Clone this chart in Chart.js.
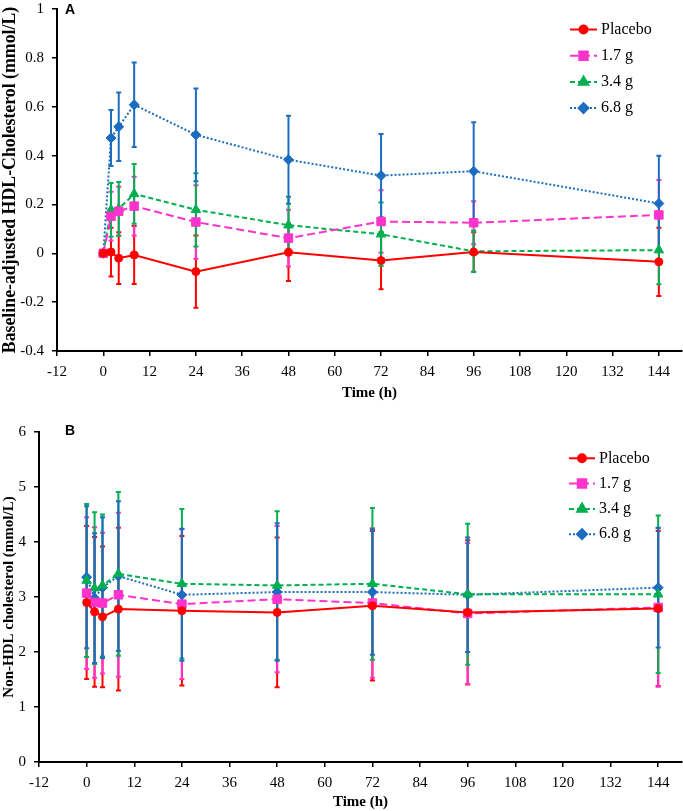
<!DOCTYPE html>
<html>
<head>
<meta charset="utf-8">
<script src="https://cdn.jsdelivr.net/npm/chart.js@4.4.1/dist/chart.umd.min.js"></script>
<style>
  body { margin: 0; background: #fff; overflow: hidden; }
  canvas { position: absolute; left: 0; }
</style>
</head>
<body>
<canvas id="chartA" width="683" height="404" style="top:0"></canvas>
<canvas id="chartB" width="683" height="407" style="top:404px"></canvas>
<script>
// sampling times (h)
var timesH = [0, 2, 4, 8, 24, 48, 72, 96, 144];
var seriesNames = ['Placebo', '1.7 g', '3.4 g', '6.8 g'];
var xTicks = [-12, 0, 12, 24, 36, 48, 60, 72, 84, 96, 108, 120, 132, 144];

// panel A : baseline-adjusted HDL-C (mmol/L), mean and SD
var hdlPlacebo = [0, 0.005, -0.02, -0.007, -0.075, 0.004, -0.03, 0.005, -0.035];
var hdl17 = [0, 0.152, 0.172, 0.193, 0.128, 0.062, 0.13, 0.125, 0.157];
var hdl34 = [0, 0.178, 0.182, 0.243, 0.178, 0.115, 0.078, 0.008, 0.013];
var hdl68 = [0, 0.472, 0.518, 0.608, 0.485, 0.383, 0.318, 0.336, 0.204];
var hdlPlaceboSD = [0, 0.10, 0.106, 0.119, 0.148, 0.117, 0.117, 0.081, 0.14];
var hdl17SD = [0, 0.10, 0.10, 0.12, 0.15, 0.116, 0.128, 0.088, 0.143];
var hdl34SD = [0, 0.11, 0.11, 0.122, 0.15, 0.116, 0.13, 0.085, 0.14];
var hdl68SD = [0, 0.115, 0.14, 0.173, 0.19, 0.18, 0.17, 0.2, 0.195];
var yTicksA = [-0.4, -0.2, 0, 0.2, 0.4, 0.6, 0.8, 1];

// panel B : non-HDL cholesterol (mmol/L), mean and SD
var nonPlacebo = [2.90, 2.73, 2.64, 2.78, 2.75, 2.72, 2.84, 2.72, 2.79];
var non17 = [3.07, 2.90, 2.89, 3.04, 2.87, 2.96, 2.89, 2.70, 2.81];
var non34 = [3.30, 3.16, 3.21, 3.42, 3.24, 3.21, 3.24, 3.05, 3.05];
var non68 = [3.36, 2.98, 3.17, 3.38, 3.04, 3.09, 3.09, 3.04, 3.17];
var nonPlaceboSD = [1.39, 1.36, 1.28, 1.48, 1.36, 1.36, 1.36, 1.31, 1.41];
var non17SD = [1.38, 1.37, 1.28, 1.49, 1.36, 1.33, 1.36, 1.28, 1.44];
var non34SD = [1.39, 1.38, 1.29, 1.49, 1.36, 1.35, 1.38, 1.28, 1.43];
var non68SD = [1.29, 1.18, 1.28, 1.36, 1.20, 1.25, 1.14, 1.04, 1.09];
var yTicksB = [0, 1, 2, 3, 4, 5, 6];

var serif = "'Liberation Serif', 'Times New Roman', serif";
var looks = [
	{color: '#FF0000', pointStyle: 'circle', radius: 4, dash: []},
	{color: '#FF33CC', pointStyle: 'rect', radius: 6, dash: [8, 4]},
	{color: '#00B050', pointStyle: 'triangle', radius: 5.5, dash: [5, 3]},
	{color: '#1C6DC0', pointStyle: 'rectRot', radius: 5, dash: [2, 2]}
];

// error bars drawn under the lines
var errorBars = {
	id: 'errorBars',
	beforeDatasetsDraw: function(chart) {
		var ctx = chart.ctx, xs = chart.scales.x, ys = chart.scales.y;
		chart.data.datasets.forEach(function(ds) {
			ctx.save();
			ctx.strokeStyle = ds.borderColor;
			ctx.lineWidth = 2;
			ctx.setLineDash([]);
			ds.data.forEach(function(p, j) {
				var sd = ds.sd[j];
				if (!sd) return;
				var x = xs.getPixelForValue(p.x);
				var lo = ys.getPixelForValue(p.y - sd);
				var hi = ys.getPixelForValue(p.y + sd);
				ctx.beginPath();
				ctx.moveTo(x, lo); ctx.lineTo(x, hi);
				ctx.moveTo(x - 2.5, lo); ctx.lineTo(x + 2.5, lo);
				ctx.moveTo(x - 2.5, hi); ctx.lineTo(x + 2.5, hi);
				ctx.stroke();
			});
			ctx.restore();
		});
	}
};

// excel-like legend (line + marker) and the panel letter
var sideLegend = {
	id: 'sideLegend',
	afterDraw: function(chart, args, opts) {
		var ctx = chart.ctx;
		ctx.save();
		chart.data.datasets.forEach(function(ds, i) {
			var y = opts.top + i * opts.step;
			var lk = looks[i];
			ctx.strokeStyle = lk.color;
			ctx.fillStyle = lk.color;
			ctx.lineWidth = 2;
			ctx.setLineDash(lk.dash);
			ctx.beginPath();
			ctx.moveTo(opts.x0, y); ctx.lineTo(opts.x1, y);
			ctx.stroke();
			ctx.setLineDash([]);
			Chart.helpers.drawPoint(ctx, {pointStyle: lk.pointStyle, radius: lk.radius, rotation: 0, borderWidth: 1}, (opts.x0 + opts.x1) / 2, y);
			ctx.fillStyle = '#000';
			ctx.font = '16px ' + serif;
			ctx.textBaseline = 'middle';
			ctx.textAlign = 'left';
			ctx.fillText(ds.label, opts.x1 + 4, y);
		});
		ctx.fillStyle = '#000';
		ctx.font = "bold 14px 'Liberation Sans', Arial, sans-serif";
		ctx.textBaseline = 'middle';
		ctx.fillText(opts.letter, opts.letterX, opts.letterY);
		ctx.restore();
	}
};

function makeDatasets(means, sds) {
	return means.map(function(m, i) {
		var lk = looks[i];
		return {
			label: seriesNames[i],
			data: timesH.map(function(t, j) { return {x: t, y: m[j]}; }),
			sd: sds[i],
			borderColor: lk.color,
			backgroundColor: lk.color,
			borderWidth: 2,
			borderDash: lk.dash,
			pointStyle: lk.pointStyle,
			pointRadius: lk.radius,
			pointHoverRadius: lk.radius,
			pointBorderWidth: 1,
			tension: 0,
			showLine: true
		};
	});
}

function drawPanel(canvasId, means, sds, yTicks, yTitle, box) {
	new Chart(document.getElementById(canvasId), {
		type: 'scatter',
		data: { datasets: makeDatasets(means, sds) },
		options: {
			responsive: false,
			animation: false,
			layout: { autoPadding: false, padding: { top: box.top, right: 1, left: 0, bottom: 0 } },
			plugins: {
				legend: { display: false },
				tooltip: { enabled: false },
				sideLegend: box.legend
			},
			scales: {
				x: {
					type: 'linear',
					min: -12,
					max: 150,
					afterBuildTicks: function(scale) {
						scale.ticks = xTicks.map(function(v) { return {value: v}; });
					},
					afterFit: function(scale) {
						scale.height = box.xHeight;
						scale.paddingLeft = 0;
						scale.paddingRight = 0;
					},
					ticks: {
						color: '#000',
						font: { family: serif, size: 15 },
						padding: 7,
						maxRotation: 0,
						callback: function(v) { return String(v); }
					},
					grid: { drawOnChartArea: false, drawTicks: true, tickLength: 5, color: '#000', lineWidth: 1.5 },
					border: { display: true, color: '#000', width: 2 },
					title: {
						display: true,
						text: 'Time (h)',
						color: '#000',
						font: { family: serif, size: 15, weight: 'bold' },
						padding: { top: 0, bottom: box.xTitlePad }
					}
				},
				y: {
					min: yTicks[0],
					max: yTicks[yTicks.length - 1],
					afterBuildTicks: function(scale) {
						scale.ticks = yTicks.map(function(v) { return {value: v}; });
					},
					afterFit: function(scale) {
						scale.width = box.yWidth;
						scale.paddingTop = 0;
						scale.paddingBottom = 0;
					},
					ticks: {
						color: '#000',
						font: { family: serif, size: 15 },
						padding: 8,
						callback: function(v) { return String(v); }
					},
					grid: { drawOnChartArea: false, drawTicks: true, tickLength: 5, color: '#000', lineWidth: 1.5 },
					border: { display: true, color: '#000', width: 2 },
					title: {
						display: true,
						text: yTitle,
						color: '#000',
						font: { family: serif, size: box.yTitleSize, weight: 'bold' },
						padding: { top: 0, bottom: 0 }
					}
				}
			}
		},
		plugins: [errorBars, sideLegend]
	});
}

drawPanel('chartA',
	[hdlPlacebo, hdl17, hdl34, hdl68],
	[hdlPlaceboSD, hdl17SD, hdl34SD, hdl68SD],
	yTicksA,
	'Baseline-adjusted HDL-Cholesterol (mmol/L)',
	{ top: 9, xHeight: 53, yWidth: 57, xTitlePad: 2, yTitleSize: 17.8,
	  legend: { x0: 570, x1: 597, top: 29.5, step: 26.2, letter: 'A', letterX: 65, letterY: 10 } });

drawPanel('chartB',
	[nonPlacebo, non17, non34, non68],
	[nonPlaceboSD, non17SD, non34SD, non68SD],
	yTicksB,
	'Non-HDL cholesterol (mmol/L)',
	{ top: 28, xHeight: 49, yWidth: 39, xTitlePad: 0, yTitleSize: 15,
	  legend: { x0: 569, x1: 595, top: 54.3, step: 25.3, letter: 'B', letterX: 65, letterY: 27.5 } });
</script>
</body>
</html>
